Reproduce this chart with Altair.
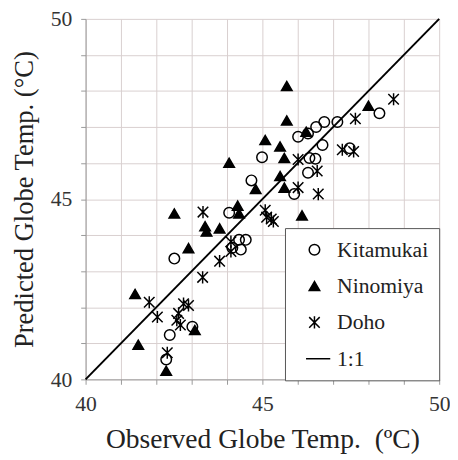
import altair as alt
import pandas as pd

# ---- data ----
sites = ["Kitamukai", "Ninomiya", "Doho", "1:1"]

K_obs = [42.51, 42.38, 42.28, 43.02, 44.06, 44.15, 44.34, 44.53, 44.39, 44.69, 44.99, 45.90,
         46.01, 46.29, 46.52, 46.75, 47.12, 48.31, 46.70, 46.50, 46.33, 46.29, 47.47]
K_pred = [43.35, 41.23, 40.55, 41.46, 44.62, 43.65, 43.87, 43.87, 43.60, 45.52, 46.16, 45.14,
          46.73, 46.82, 47.00, 47.14, 47.14, 47.38, 46.50, 46.12, 46.14, 45.73, 46.41]

N_obs = [45.69, 45.69, 45.08, 45.50, 45.62, 44.06, 45.50, 44.81, 45.62, 46.12, 46.24, 48.00,
         44.30, 44.34, 42.51, 43.38, 43.42, 43.79, 42.91, 41.40, 41.49, 42.28, 43.09]
N_pred = [48.14, 47.18, 46.64, 46.46, 46.14, 46.01, 45.64, 45.28, 45.32, 44.55, 46.87, 47.59,
          44.82, 44.60, 44.60, 44.25, 44.10, 44.19, 43.64, 42.37, 40.96, 40.24, 41.37]

D_obs = [48.71, 47.63, 47.26, 47.58, 46.01, 46.55, 46.01, 46.58, 45.08, 45.12, 45.25, 45.31,
         43.32, 44.11, 44.11, 43.79, 43.31, 41.80, 42.03, 42.58, 42.77, 42.91, 42.63, 42.68, 42.31]
D_pred = [47.77, 47.23, 46.37, 46.32, 46.10, 45.78, 45.32, 45.14, 44.69, 44.50, 44.45, 44.38,
          44.64, 43.82, 43.55, 43.28, 42.83, 42.14, 41.73, 41.64, 42.10, 42.05, 41.83, 41.51, 40.74]

line_vals = [40, 50]
tick_vals = list(range(40, 51))

rows = []
for name, xs, ys in [("Kitamukai", K_obs, K_pred), ("Ninomiya", N_obs, N_pred), ("Doho", D_obs, D_pred)]:
    for a, b in zip(xs, ys):
        rows.append({"obs": a, "pred": b, "site": name})
df = pd.DataFrame(rows)
line_df = pd.DataFrame({"obs": line_vals, "pred": line_vals})

FONT = "Liberation Serif"
star = "M-1,-1L1,1M-1,1L1,-1M0,-1.15L0,1.15"
dash = "M-1.6,0L3,0"

xscale = alt.Scale(domain=[40, 50], nice=False, zero=False)
yscale = alt.Scale(domain=[40, 50], nice=False, zero=False)

xaxis = alt.Axis(values=tick_vals, labelExpr="datum.value % 5 == 0 ? datum.label : ''",
                 labelFlush=False, labelOverlap=False, labelPadding=10, titlePadding=11,
                 labelFont=FONT, labelFontSize=22, titleFont=FONT,
                 title="Observed Globe Temp.\u00a0 (ºC)")
yaxis = alt.Axis(values=tick_vals, labelExpr="datum.value % 5 == 0 ? datum.label : ''",
                 labelFlush=False, labelOverlap=False, labelPadding=9, titlePadding=12,
                 labelFont=FONT, labelFontSize=22, titleFont=FONT, titleFontSize=27,
                 title="Predicted Globe Temp. (°C)")

legend = alt.Legend(title=None, orient="none", legendX=203, legendY=213,
                    labelFont=FONT, labelFontSize=22)

points = alt.Chart(df).mark_point(filled=True, strokeWidth=1.5, opacity=1).encode(
    x=alt.X("obs:Q", scale=xscale, axis=xaxis),
    y=alt.Y("pred:Q", scale=yscale, axis=yaxis),
    shape=alt.Shape("site:N", scale=alt.Scale(domain=sites, range=["circle", "triangle-up", star, dash]),
                    legend=legend),
    fill=alt.Fill("site:N", scale=alt.Scale(domain=sites, range=["transparent", "black", "transparent", "transparent"]),
                  legend=legend),
    stroke=alt.Stroke("site:N", scale=alt.Scale(domain=sites, range=["black", "black", "black", "black"]),
                      legend=legend),
    size=alt.value(115),
)

line = alt.Chart(line_df).mark_line(color="black", strokeWidth=2).encode(
    x=alt.X("obs:Q", scale=xscale, axis=xaxis),
    y=alt.Y("pred:Q", scale=yscale, axis=yaxis),
)

chart = alt.layer(points, line).properties(
    width=360, height=367,
    padding={"left": 79, "top": 7, "right": 11, "bottom": 78},
    autosize=alt.AutoSizeParams(type="none"),
).configure_view(stroke="transparent").configure_axis(
    labelFont=FONT, labelFontSize=22, labelColor="#333",
    titleFont=FONT, titleFontSize=28, titleFontWeight="normal", titleColor="#222",
    grid=True, gridColor="#d8cfcf", gridWidth=1,
    domainColor="#999", tickColor="#999", tickSize=5,
).configure_legend(
    labelFont=FONT, labelFontSize=22, labelColor="#222",
    padding=11, rowPadding=15, symbolOffset=8, labelOffset=12,
    strokeColor="#555", fillColor="white",
    symbolSize=115, symbolStrokeWidth=1.5,
)

chart.save("out.html", embed_options={"renderer": "svg", "actions": False})
